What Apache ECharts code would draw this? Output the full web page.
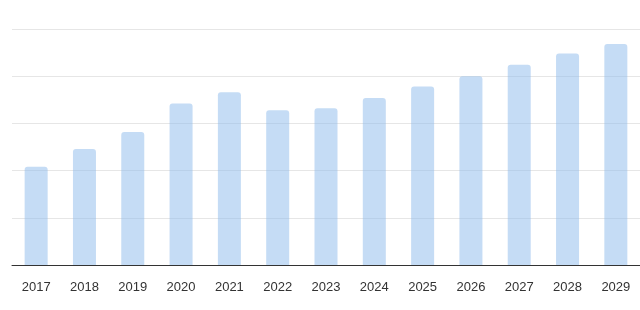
<!DOCTYPE html>
<html><head><meta charset="utf-8">
<script src="https://cdn.jsdelivr.net/npm/echarts@6/dist/echarts.min.js"></script>
<style>html,body{margin:0;padding:0;background:#fff}#c{width:640px;height:310px}</style>
</head><body><div id="c"></div>
<script>
const years = ['2017','2018','2019','2020','2021','2022','2023','2024','2025','2026','2027','2028','2029'];
const values = [104, 123, 141, 171, 183, 164, 166, 177, 189, 200, 212, 224, 234];
const chart = echarts.init(document.getElementById('c'), null, {renderer:'canvas'});
chart.setOption({
  animation:false,
  grid:{left:12,right:-2,top:29,bottom:45,containLabel:false},
  xAxis:{type:'category',data:years,
    axisLine:{lineStyle:{color:'#333',width:1}},
    axisTick:{show:false},
    axisLabel:{color:'#333',fontSize:13,margin:16,fontFamily:'Liberation Sans, Arial, sans-serif'}},
  yAxis:{type:'value',min:0,max:250,interval:50,
    axisLabel:{show:false},axisLine:{show:false},axisTick:{show:false},
    splitLine:{lineStyle:{color:'#e6e6e6',width:1}}},
  series:[{type:'bar',data:values,barWidth:23,
    itemStyle:{color:'rgba(139,185,235,0.5)',borderRadius:[3,3,0,0]}}]
});
</script></body></html>
